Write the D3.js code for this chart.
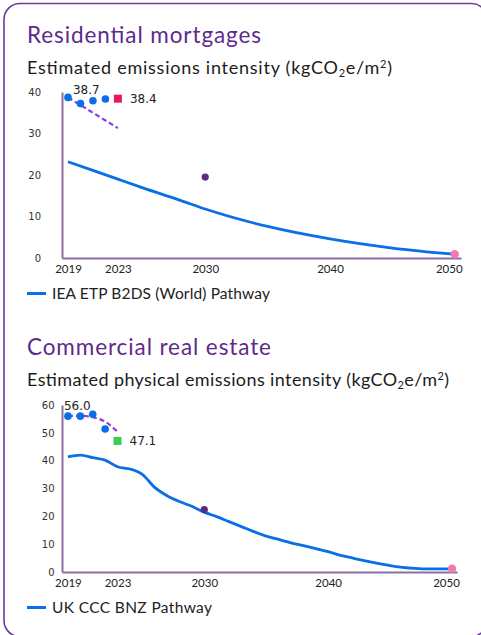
<!DOCTYPE html>
<html><head><meta charset="utf-8">
<script src="https://cdn.jsdelivr.net/npm/d3@7"></script>
<style>body{margin:0;background:#fff}svg{display:block}</style>
</head><body><svg id="c" width="481" height="635"></svg>
<script>
// ---------- data ----------
const xTickYears = [2019, 2023, 2030, 2040, 2050];
const actualYears = [2019, 2020, 2021, 2022];

// Residential mortgages
const resYTicks = [0, 10, 20, 30, 40];
const resActual = [38.7, 37.2, 37.9, 38.3];
const resTrendYears = [2019, 2023];
const resTrend = [38.7, 31.3];
const resTarget2023 = 38.4;
const resTarget2030 = 19.5;
const resEnd2050 = 0.9;
const resPathYears = [2019, 2023, 2025, 2028, 2030, 2035, 2040, 2045, 2050];
const resPath = [23.2, 19.0, 16.9, 13.9, 11.8, 7.6, 4.6, 2.4, 0.9];

// Commercial real estate
const creYTicks = [0, 10, 20, 30, 40, 50, 60];
const creActual = [56.0, 56.0, 56.7, 51.4];
const creTrendYears = [2019, 2020, 2021, 2022, 2023];
const creTrend = [56.1, 56.1, 55.6, 54.0, 50.4];
const creTarget2023 = 47.1;
const creTarget2030 = 22.4;
const creEnd2050 = 1.2;
const crePathYears = [2019,2020,2021,2022,2023,2024,2025,2026,2027,2028,2029,2030,2031,2032,2033,2034,2035,2036,2037,2038,2039,2040,2041,2042,2043,2044,2045,2046,2047,2048,2049,2050];
const crePath = [41.4,42.0,41.1,40.2,37.8,37.0,35.1,30.4,27.4,25.3,23.6,21.5,19.9,18.1,16.3,14.5,12.9,11.7,10.5,9.5,8.4,7.3,6.0,5.0,4.0,3.1,2.3,1.7,1.3,1.1,1.1,1.1];

// ---------- styles ----------
const PURPLE = "#5e2a8c", AXIS = "#8c6fa3", BLUE = "#0a6fe6", DASH = "#8a3fd8",
      DOT30 = "#5a2a84", PINK = "#f07cad";
const TXT = "Lato, 'Open Sans', sans-serif";
const NUM = "'DejaVu Sans', Verdana, sans-serif";

const svg = d3.select("#c");
svg.append("rect").attr("x", 4).attr("y", 3.5).attr("width", 483.4).attr("height", 633)
  .attr("rx", 16).attr("fill", "#fff").attr("stroke", "#6b3a98").attr("stroke-width", 1.6);

function subtitle(y, prefix, len) {
  const t = svg.append("text").attr("x", 27).attr("y", y)
    .attr("font-family", TXT).attr("font-size", 18).attr("fill", "#1c1c1c")
    .attr("textLength", len).attr("lengthAdjust", "spacing");
  t.append("tspan").text(prefix + "(kgCO");
  t.append("tspan").attr("font-size", 11).attr("dy", 2.5).text("2");
  t.append("tspan").attr("dy", -2.5).text("e/m");
  t.append("tspan").attr("font-size", 11).attr("dy", -6).text("2");
  t.append("tspan").attr("dy", 6).text(")");
}

function chart(o) {
  svg.append("text").attr("x", 27).attr("y", o.titleY).text(o.title)
    .attr("font-family", TXT).attr("font-size", 22.5).attr("fill", PURPLE)
    .attr("textLength", o.titleLen).attr("lengthAdjust", "spacing");
  subtitle(o.subY, o.sub, o.subLen);

  const x = d3.scaleLinear().domain(o.xDomain).range(o.xRange);
  const y = d3.scaleLinear().domain([0, d3.max(o.yTicks)]).range(o.yRange);

  const g = svg.append("g");
  const ya = g.append("g").attr("transform", `translate(${o.xRange[0]},0)`)
    .call(d3.axisLeft(y).tickValues(o.yTicks).tickSize(0).tickSizeOuter(0).tickPadding(o.yPad));
  ya.select(".domain").attr("stroke", AXIS).attr("stroke-width", 2);
  ya.selectAll("text").attr("font-family", NUM).attr("font-size", 10).attr("fill", "#333");

  const xa = g.append("g").attr("transform", `translate(0,${o.yRange[0]})`)
    .call(d3.axisBottom(x).tickValues(xTickYears).tickFormat(d3.format("d")).tickSize(0).tickSizeOuter(0).tickPadding(6.8));
  xa.select(".domain").attr("stroke", AXIS).attr("stroke-width", 2);
  xa.selectAll("text").attr("font-family", TXT).attr("font-size", 11.5).attr("fill", "#222")
    .attr("dx", d => d === 2050 ? -6 : 0);

  // pathway
  const line = d3.line().x(d => x(d[0])).y(d => y(d[1])).curve(d3.curveMonotoneX);
  g.append("path").datum(o.pathYears.map((yr, i) => [yr, o.path[i]]))
    .attr("d", line).attr("fill", "none").attr("stroke", BLUE).attr("stroke-width", 2.8)
    .attr("stroke-linejoin", "round");

  // trend dashed
  g.append("path").datum(o.trendYears.map((yr, i) => [yr, o.trend[i]]))
    .attr("d", line).attr("fill", "none").attr("stroke", DASH).attr("stroke-width", 2.2)
    .attr("stroke-dasharray", "5,3");

  // actual dots
  g.selectAll(null).data(actualYears.map((yr, i) => [yr, o.actual[i]])).enter()
    .append("circle").attr("cx", d => x(d[0])).attr("cy", d => y(d[1])).attr("r", 3.8).attr("fill", BLUE);

  // first label
  g.append("text").attr("x", x(actualYears[0]) + o.lab0[0]).attr("y", y(o.actual[0]) + o.lab0[1])
    .text(o.actual[0].toFixed(1)).attr("font-family", NUM).attr("font-size", 12).attr("fill", "#222");

  // 2023 target square
  g.append("rect").attr("x", x(2023) - 4).attr("y", y(o.target23) - 4).attr("width", 8).attr("height", 8)
    .attr("fill", o.sqColor);
  g.append("text").attr("x", x(2023) + 12).attr("y", y(o.target23) + 4.2)
    .text(o.target23.toFixed(1)).attr("font-family", NUM).attr("font-size", 12).attr("fill", "#222");

  // 2030 target & 2050 end
  g.append("circle").attr("cx", x(2030)).attr("cy", y(o.target30)).attr("r", 3.6).attr("fill", DOT30);
  g.append("circle").attr("cx", x(2050)).attr("cy", y(o.end50)).attr("r", 4.2).attr("fill", PINK);

  // legend
  svg.append("line").attr("x1", 27).attr("x2", 46).attr("y1", o.legY).attr("y2", o.legY)
    .attr("stroke", BLUE).attr("stroke-width", 3);
  svg.append("text").attr("x", 52).attr("y", o.legY + 5.5).text(o.legend)
    .attr("font-family", TXT).attr("font-size", 15.5).attr("fill", "#222")
    .attr("textLength", o.legLen).attr("lengthAdjust", "spacing");
}

chart({
  title: "Residential mortgages", titleY: 43.3, titleLen: 234,
  sub: "Estimated emissions intensity ", subY: 74, subLen: 365,
  xDomain: [2018.52, 2050.5], xRange: [62, 461],
  yTicks: resYTicks, yRange: [258, 92], yPad: 21,
  actual: resActual, trendYears: resTrendYears, trend: resTrend,
  pathYears: resPathYears, path: resPath,
  target23: resTarget2023, sqColor: "#e6195c", target30: resTarget2030, end50: resEnd2050,
  lab0: [5, -3],
  legY: 293.5, legend: "IEA ETP B2DS (World) Pathway", legLen: 218
});

chart({
  title: "Commercial real estate", titleY: 355, titleLen: 244,
  sub: "Estimated physical emissions intensity ", subY: 386, subLen: 422,
  xDomain: [2018.52, 2050.4], xRange: [62, 457],
  yTicks: creYTicks, yRange: [572, 405], yPad: 7.5,
  actual: creActual, trendYears: creTrendYears, trend: creTrend,
  pathYears: crePathYears, path: crePath,
  target23: creTarget2023, sqColor: "#3dcd55", target30: creTarget2030, end50: creEnd2050,
  lab0: [-4, -6.5],
  legY: 607.5, legend: "UK CCC BNZ Pathway", legLen: 160
});
</script></body></html>
